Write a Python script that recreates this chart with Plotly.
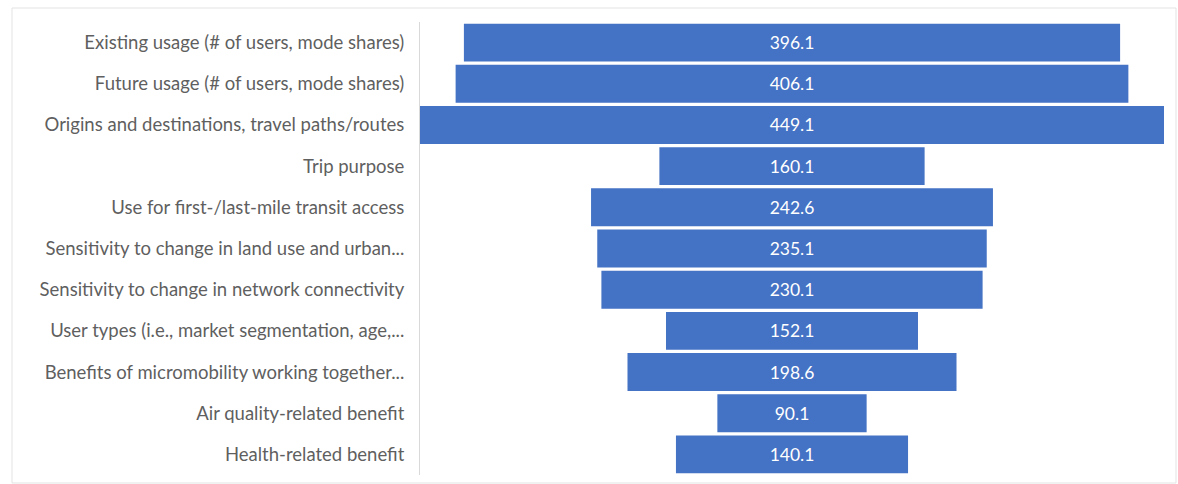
import plotly.graph_objects as go

categories = [
    "Existing usage (# of users, mode shares)",
    "Future usage (# of users, mode shares)",
    "Origins and destinations, travel paths/routes",
    "Trip purpose",
    "Use for first-/last-mile transit access",
    "Sensitivity to change in land use and urban...",
    "Sensitivity to change in network connectivity",
    "User types (i.e., market segmentation, age,...",
    "Benefits of micromobility working together...",
    "Air quality-related benefit",
    "Health-related benefit",
]
values = [396.1, 406.1, 449.1, 160.1, 242.6, 235.1, 230.1, 152.1, 198.6, 90.1, 140.1]

W, H = 1178, 484
L, R, T, B = 420, 14, 22, 9
pw, ph = W - L - R, H - T - B

fig = go.Figure(go.Funnel(
    y=categories,
    x=values,
    texttemplate="%{value:.1f}",
    textposition="inside",
    insidetextfont=dict(color="white", size=17.5, family="Lato"),
    marker=dict(color="#4472C4"),
    connector=dict(visible=False),
    hoverinfo="y+x",
))

vmax = max(values)
fig.update_layout(
    width=W, height=H,
    margin=dict(l=L, r=R, t=T, b=B),
    paper_bgcolor="white",
    plot_bgcolor="white",
    showlegend=False,
    funnelgap=0.08,
    font=dict(family="Lato", size=18, color="#595959"),
    xaxis=dict(range=[-vmax / 2, vmax / 2], visible=False),
    yaxis=dict(showline=True, linecolor="#d9d9d9", linewidth=1,
               ticks="", ticklabelstandoff=11,
               tickfont=dict(family="Lato", size=18.5, color="#5f5f5f")),
    shapes=[dict(type="rect", xref="paper", yref="paper",
                 x0=(12 - L) / pw, x1=(1176 - L) / pw,
                 y0=(H - B - 483) / ph, y1=(H - B - 8) / ph,
                 line=dict(color="#e3e3e3", width=1), layer="below")],
)

fig.write_html("out.html")
